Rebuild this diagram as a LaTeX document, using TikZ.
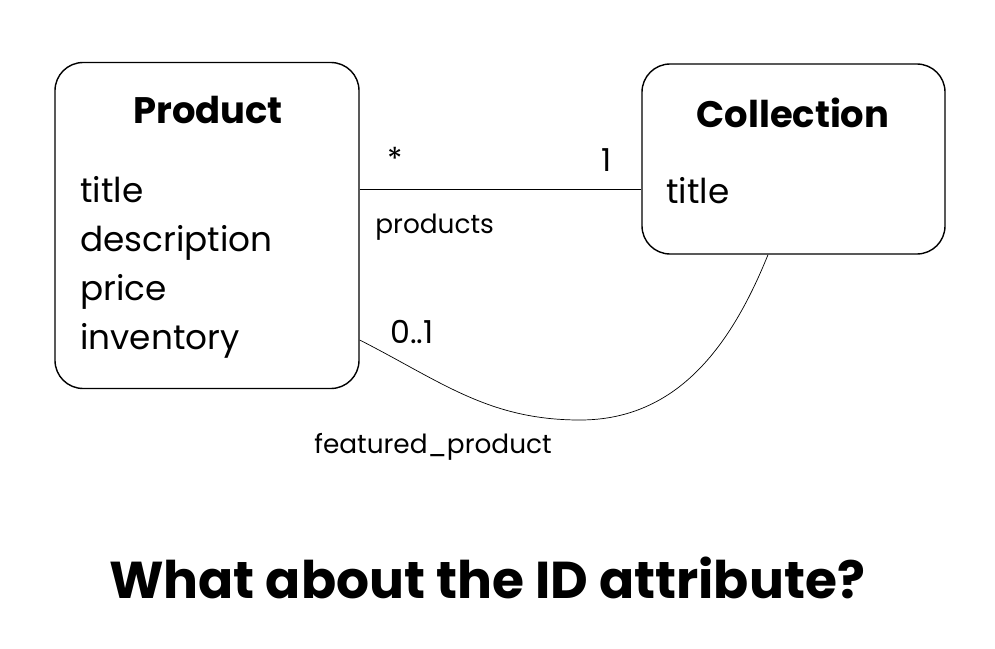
\documentclass[tikz,border=0pt]{standalone}
\usepackage{fontspec}
\setmainfont{Poppins}
\usetikzlibrary{positioning, calc}

\begin{document}
\begin{tikzpicture}[
    entity/.style={draw, thick, rounded corners=16pt, minimum width=#1},
    ename/.style={anchor=base, inner sep=0pt, font=\fontsize{21}{25}\selectfont\bfseries},
    attr/.style={anchor=base west, inner sep=0pt, font=\fontsize{19.5}{23}\selectfont},
    mult/.style={anchor=base, inner sep=0pt, font=\fontsize{18}{21}\selectfont},
    role/.style={anchor=base west, inner sep=0pt, font=\fontsize{15}{18}\selectfont},
]
    \useasboundingbox (0,0) rectangle (19.9,-12.96);

    % Entities
    \node[entity=6.08cm, minimum height=6.52cm] (product) at (4.14,-4.51) {};
    \node[entity=6.06cm, minimum height=3.8cm] (collection) at (15.87,-3.18) {};

    \node[ename] (prodname) at (4.16,-2.46) {Product};
    \node[attr] (ptitle) at (1.6,-4.04) {title};
    \node[attr] (pdesc) at (1.6,-5.02) {description};
    \node[attr] (pprice) at (1.6,-6.0) {price};
    \node[attr] (pinv) at (1.6,-6.98) {inventory};

    \node[ename] (collname) at (15.86,-2.54) {Collection};
    \node[attr] (ctitle) at (13.32,-4.06) {title};

    % Associations
    \draw (product.east |- 0,-3.78) -- (collection.west |- 0,-3.78);
    \draw ([yshift=-2.29cm]product.east) to[out=-27, in=180] (11.6,-8.4)
        to[out=0, in=248] ([xshift=-0.51cm]collection.south);

    \node[mult] (many) at (7.9,-3.4) {*};
    \node[mult] (one) at (12.14,-3.42) {1};
    \node[role] (products) at (7.5,-4.66) {products};
    \node[mult, anchor=base west] (zeroone) at (7.8,-6.86) {0..1};
    \node[role] (featured) at (6.28,-9.06) {featured\_product};

    % Question
    \node[anchor=base, inner sep=0pt, font=\fontsize{29.5}{35}\selectfont\bfseries] (question) at (9.74,-11.96) {What about the ID attribute?};
\end{tikzpicture}
\end{document}
